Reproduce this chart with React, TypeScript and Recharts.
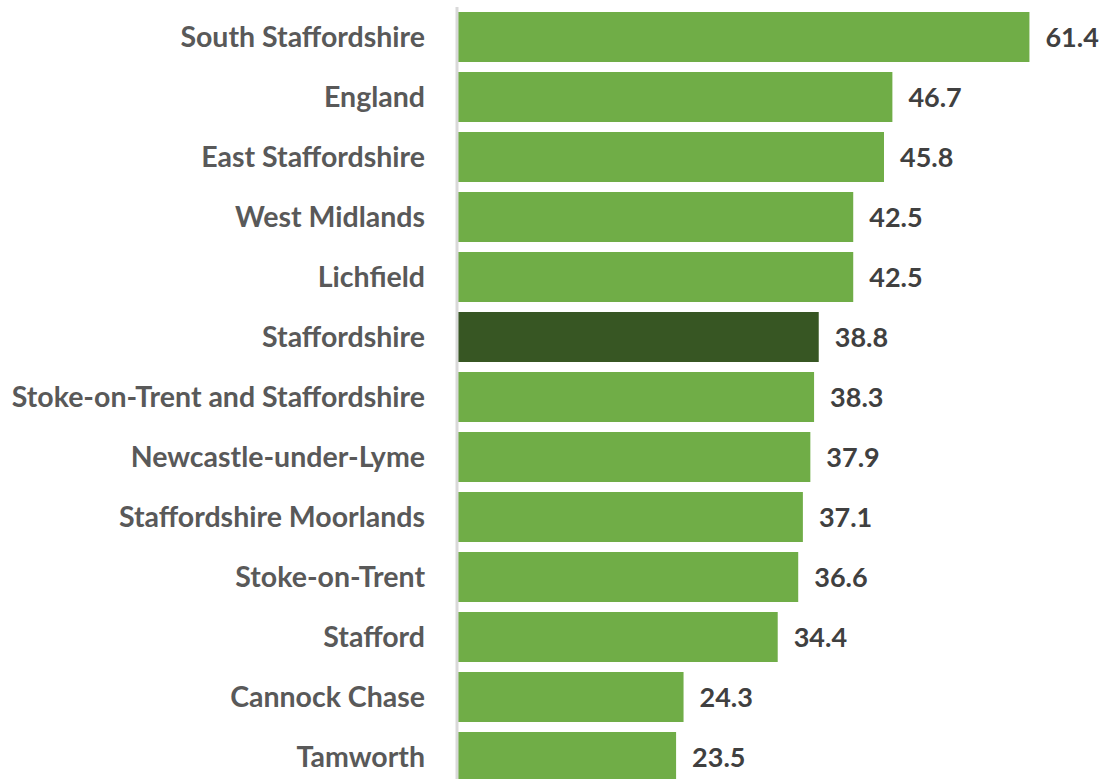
import { Bar, BarChart, Cell, LabelList, XAxis, YAxis } from "recharts";

const AREAS = [
  "South Staffordshire",
  "England",
  "East Staffordshire",
  "West Midlands",
  "Lichfield",
  "Staffordshire",
  "Stoke-on-Trent and Staffordshire",
  "Newcastle-under-Lyme",
  "Staffordshire Moorlands",
  "Stoke-on-Trent",
  "Stafford",
  "Cannock Chase",
  "Tamworth",
];
const RATES = [61.4, 46.7, 45.8, 42.5, 42.5, 38.8, 38.3, 37.9, 37.1, 36.6, 34.4, 24.3, 23.5];
const HIGHLIGHT = "Staffordshire";

const GREEN = "#70AD47";
const DARK_GREEN = "#375623";

const data = AREAS.map((name, i) => ({ name, value: RATES[i] }));

export default function App() {
  return (
    <div
      style={{
        position: "fixed",
        top: 0,
        left: 0,
        width: 1104,
        height: 779,
        overflow: "hidden",
        background: "#fff",
        fontFamily: "Lato, sans-serif",
      }}
    >
      <BarChart
        layout="vertical"
        width={1104}
        height={790}
        data={data}
        barSize={50}
        margin={{ top: 7, right: 41, bottom: 3, left: 0 }}
      >
        <XAxis type="number" domain={[0, 65]} hide />
        <YAxis
          type="category"
          dataKey="name"
          width={457}
          interval={0}
          tickLine={false}
          tickSize={6}
          tickMargin={26}
          axisLine={{ stroke: "#d9d9d9", strokeWidth: 3 }}
          tick={{ fill: "#595959", fontSize: 28.5, fontWeight: 700 }}
        />
        <Bar dataKey="value" isAnimationActive={false}>
          {data.map((d) => (
            <Cell key={d.name} fill={d.name === HIGHLIGHT ? DARK_GREEN : GREEN} />
          ))}
          <LabelList
            dataKey="value"
            position="right"
            offset={16}
            fill="#404040"
            fontSize={27}
            fontWeight={700}
            formatter={(v: number) => v.toFixed(1)}
          />
        </Bar>
      </BarChart>
    </div>
  );
}
